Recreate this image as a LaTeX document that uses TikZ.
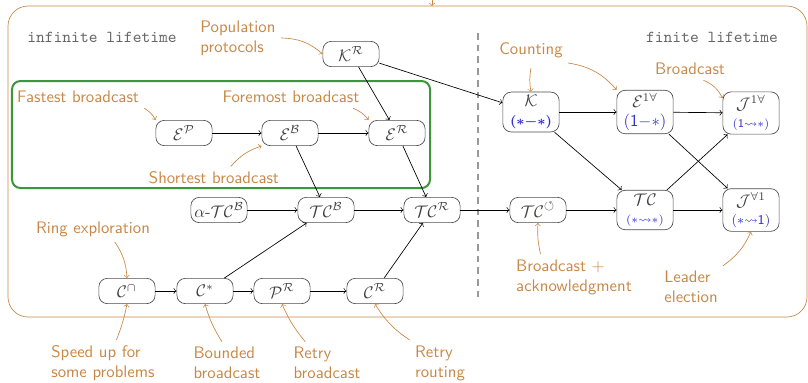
\documentclass[tikz,border=0pt]{standalone}
\usepackage{amsmath,amssymb}
\usepackage{xcolor}
\definecolor{notecol}{RGB}{200,135,70}
\definecolor{boxgreen}{RGB}{60,150,60}
\definecolor{tagblue}{RGB}{50,50,205}

\begin{document}
\begin{tikzpicture}[x=0.021cm, y=-0.021cm,
    cls/.style={draw=black!70, rounded corners=5pt, minimum width=1.18cm, minimum height=0.53cm, inner sep=2pt, text=black!75, align=center},
    note/.style={text=notecol, font=\sffamily, align=left, inner sep=3pt},
    hint/.style={->, draw=notecol},
    life/.style={text=black!60, font=\ttfamily}]

    \useasboundingbox (0,0) rectangle (808,382);

    \draw [notecol, rounded corners=12pt] (8,6) rectangle (807,317);
    \draw [boxgreen, line width=1.2pt, rounded corners=5pt] (12,81) rectangle (430,188);
    \draw [black!40, line width=0.8pt, dash pattern=on 4pt off 3pt] (478,33) -- (478,297);

    \node [life] (inf) at (102,37) {infinite lifetime};
    \node [life] (fin) at (712,37) {finite lifetime};

    \node [cls] (KR) at (351,54) {$\mathcal{K}^{\mathcal{R}}$};
    \node [cls] (EP) at (184,133) {$\mathcal{E}^{\mathcal{P}}$};
    \node [cls] (EB) at (290,133) {$\mathcal{E}^{\mathcal{B}}$};
    \node [cls] (ER) at (397,133) {$\mathcal{E}^{\mathcal{R}}$};
    \node [cls] (aTCB) at (219,210) {$\alpha$-$\mathcal{TC}^{\mathcal{B}}$};
    \node [cls] (TCB) at (326,210) {$\mathcal{TC}^{\mathcal{B}}$};
    \node [cls] (TCR) at (432,210) {$\mathcal{TC}^{\mathcal{R}}$};
    \node [cls] (TCo) at (538,210) {$\mathcal{TC}^{\circlearrowleft}$};
    \node [cls] (Ccap) at (127,291) {$\mathcal{C}^{\cap}$};
    \node [cls] (Cstar) at (205,291) {$\mathcal{C}^{*}$};
    \node [cls] (PR) at (282,291) {$\mathcal{P}^{\mathcal{R}}$};
    \node [cls] (CR) at (375,291) {$\mathcal{C}^{\mathcal{R}}$};

    \node [cls] (K) at (531,112) {$\mathcal{K}$\\[-1pt]{\footnotesize\color{tagblue}$\boldsymbol{(\ast{-}\ast)}$}};
    \node [cls] (E1A) at (645,112) {$\mathcal{E}^{1\forall}$\\[-1pt]{\color{tagblue}$(\mathsf{1}{-}\ast)$}};
    \node [cls] (J1A) at (751,113) {$\mathcal{J}^{1\forall}$\\[-1pt]{\scriptsize\color{tagblue}$(\mathsf{1}{\rightsquigarrow}\ast)$}};
    \node [cls] (TC) at (645,210) {$\mathcal{TC}$\\[-1pt]{\scriptsize\color{tagblue}$(\ast{\rightsquigarrow}\ast)$}};
    \node [cls] (JA1) at (751,210) {$\mathcal{J}^{\forall 1}$\\[-1pt]{\footnotesize\color{tagblue}$(\ast{\rightsquigarrow}\mathsf{1})$}};

    \draw [->] (KR) to (ER);
    \draw [->] (KR) to (K);
    \draw [->] (EP) to (EB);
    \draw [->] (EB) to (ER);
    \draw [->] (EB) to (TCB);
    \draw [->] (ER) to (TCR);
    \draw [->] (aTCB) to (TCB);
    \draw [->] (TCB) to (TCR);
    \draw [->] (TCR) to (TCo);
    \draw [->] (TCo) to (TC);
    \draw [->] (TC) to (JA1);
    \draw [->] (TC) to (J1A);
    \draw [->] (Ccap) to (Cstar);
    \draw [->] (Cstar) to (PR);
    \draw [->] (PR) to (CR);
    \draw [->] (Cstar) to (TCB);
    \draw [->] (CR) to (TCR);
    \draw [->] (K) to (E1A);
    \draw [->] (E1A) to (J1A);
    \draw [->] (K) to (TC);
    \draw [->] (E1A) to (JA1);

    \node [note] (pop) at (238,38) {Population\\protocols};
    \node [note] (fast) at (78,97) {Fastest broadcast};
    \node [note] (fore) at (291,97) {Foremost broadcast};
    \node [note] (short) at (214,178) {Shortest broadcast};
    \node [note] (count) at (531,50) {Counting};
    \node [note] (bcast) at (690,69) {Broadcast};
    \node [note] (ring) at (93,229) {Ring exploration};
    \node [note] (speed) at (103,363) {Speed up for\\some problems};
    \node [note] (bounded) at (227,363) {Bounded\\broadcast};
    \node [note] (retryb) at (327,363) {Retry\\broadcast};
    \node [note] (retryr) at (440,363) {Retry\\routing};
    \node [note] (ack) at (574,277) {Broadcast $+$\\acknowledgment};
    \node [note] (leader) at (691,287) {Leader\\election};

    \coordinate (cut) at (432,-3);
    \coordinate (rim) at (432,6);

    \draw [hint] (cut) to (rim);
    \draw [hint] (pop.east) to [bend left=20] (KR.west);
    \draw [hint] (fast.south east) to [bend left=15] (EP.north west);
    \draw [hint] ([xshift=-7pt]fore.south east) to [bend left=15] (ER.north west);
    \draw [hint] ([xshift=10pt]short.north) to [bend left=15] (EB.south west);
    \draw [hint] ([yshift=-3pt]count.south) to [bend right=10] (K.north);
    \draw [hint] (count.south east) to [bend left=20] (E1A.north west);
    \draw [hint] ([xshift=8pt]bcast.south) to [bend left=20] ([yshift=-4pt]J1A.north west);
    \draw [hint] ([xshift=13pt]ring.south) to [bend left=15] (Ccap.north);
    \draw [hint] ([xshift=8pt]speed.north) to [bend right=5] (Ccap.south);
    \draw [hint] ([xshift=-3pt]bounded.north) to [bend left=8] (Cstar.south);
    \draw [hint] ([xshift=-13pt]retryb.north) to [bend left=8] (PR.south);
    \draw [hint] (retryr.north west) to [bend left=12] (CR.south);
    \draw [hint] ([xshift=-20pt]ack.north) to [bend left=8] (TCo.south);
    \draw [hint] (leader.north east) to [bend right=15] (JA1.south);

\end{tikzpicture}
\end{document}
